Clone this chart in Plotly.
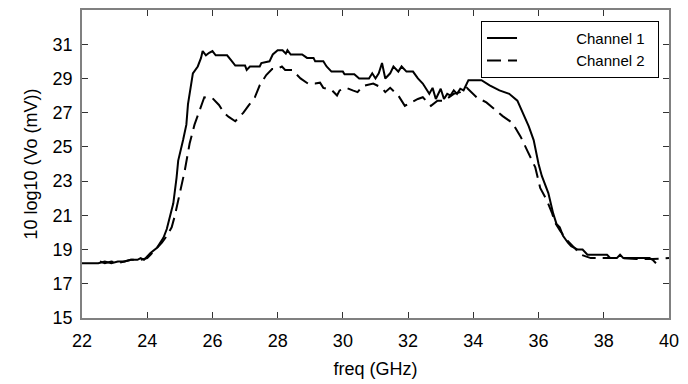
import plotly.graph_objects as go

freq_ch1 = [22.0, 22.5, 22.7, 22.9, 23.1, 23.3, 23.5, 23.7, 23.8, 23.9, 24.0, 24.1, 24.3, 24.5, 24.6, 24.7,
            24.8, 24.9, 24.95, 25.1, 25.2, 25.25, 25.4, 25.55, 25.65, 25.7, 25.8, 25.9, 26.0, 26.1, 26.45,
            26.6, 26.7, 27.0, 27.05, 27.15, 27.45, 27.5, 27.75, 27.85, 28.0, 28.15, 28.25, 28.3, 28.4,
            28.75, 28.9, 29.1, 29.15, 29.4, 29.5, 29.65, 30.0, 30.05, 30.35, 30.5, 30.8, 30.9, 31.0, 31.1,
            31.2, 31.3, 31.45, 31.55, 31.7, 31.8, 31.95, 32.15, 32.3, 32.45, 32.55, 32.65, 32.75, 32.85,
            33.0, 33.1, 33.2, 33.3, 33.4, 33.5, 33.6, 33.7, 33.75, 33.85, 34.25, 34.5, 34.8, 35.1, 35.35,
            35.5, 35.7, 35.85, 36.0, 36.1, 36.3, 36.45, 36.55, 36.65, 36.75, 36.9, 37.0, 37.2, 37.35, 37.5,
            38.1, 38.2, 38.4, 38.5, 38.6, 39.4, 39.5, 39.6]
vo_ch1 = [18.2, 18.2, 18.3, 18.2, 18.3, 18.3, 18.4, 18.4, 18.5, 18.4, 18.6, 18.8, 19.1, 19.7, 20.2, 20.9,
          21.7, 23.2, 24.2, 25.4, 26.3, 27.5, 29.3, 29.7, 30.2, 30.6, 30.35, 30.5, 30.6, 30.35, 30.35,
          30.0, 29.75, 29.75, 29.5, 29.7, 29.7, 29.9, 30.0, 30.4, 30.65, 30.65, 30.45, 30.65, 30.4,
          30.4, 30.2, 30.2, 30.0, 30.0, 29.7, 29.4, 29.4, 29.25, 29.25, 29.0, 29.0, 29.3, 29.0, 29.3,
          29.9, 29.0, 29.3, 29.7, 29.4, 29.7, 29.4, 29.4, 29.0, 28.7, 28.4, 28.1, 28.45, 27.8,
          28.4, 27.8, 28.1, 28.0, 28.3, 28.1, 28.4, 28.3, 28.5, 28.9, 28.9, 28.6, 28.3, 28.1, 27.7,
          27.1, 26.2, 25.4, 24.0, 23.3, 22.3, 21.1, 20.5, 20.3, 19.8, 19.4, 19.2, 19.0, 19.0, 18.7,
          18.7, 18.5, 18.5, 18.7, 18.5, 18.5, 18.4, 18.2]

freq_ch2 = [22.55, 22.7, 22.9, 23.1, 23.3, 23.5, 23.8, 24.0, 24.1, 24.3, 24.45, 24.6, 24.75, 24.85, 25.0,
            25.15, 25.3, 25.45, 25.6, 25.75, 26.0, 26.2, 26.35, 26.5, 26.7, 26.95, 27.1, 27.3, 27.45,
            27.65, 27.83, 27.98, 28.13, 28.23, 28.44, 28.7, 28.93, 29.15, 29.3, 29.4, 29.67, 29.82, 29.9,
            30.1, 30.3, 30.45, 30.6, 30.93, 31.2, 31.3, 31.45, 31.7, 31.9, 32.1, 32.3, 32.45, 32.6, 32.7,
            32.9, 33.1, 33.4, 33.6, 33.8, 33.95, 34.1, 34.4, 34.65, 34.9, 35.2, 35.45, 35.65, 35.8, 35.9,
            36.05, 36.25, 36.42, 36.5, 36.66, 36.87, 37.05, 37.3, 37.6, 38.0, 38.5, 39.0, 39.5, 40.0]
vo_ch2 = [18.3, 18.2, 18.3, 18.2, 18.3, 18.4, 18.4, 18.5, 18.7, 19.1, 19.4, 19.8, 20.3, 21.0, 22.3,
          23.6, 25.2, 26.3, 27.1, 27.9, 27.85, 27.45, 27.0, 26.75, 26.5, 27.0, 27.4, 27.9, 28.6,
          29.2, 29.55, 29.55, 29.7, 29.5, 29.5, 29.0, 28.7, 28.7, 28.75, 28.45, 28.3, 28.0, 28.3,
          28.45, 28.3, 28.2, 28.55, 28.7, 28.45, 28.2, 28.45, 28.0, 27.4, 27.6, 27.8, 27.9, 27.6, 27.4,
          27.7, 27.7, 28.1, 28.2, 28.45, 28.2, 27.9, 27.6, 27.2, 26.8, 26.4, 25.6, 24.8, 24.2, 23.8,
          22.6, 21.9, 21.1, 20.6, 20.1, 19.55, 19.2, 18.7, 18.5, 18.5, 18.5, 18.45, 18.45, 18.5]

x_ticks = [22, 24, 26, 28, 30, 32, 34, 36, 38, 40]
y_ticks = [15, 17, 19, 21, 23, 25, 27, 29, 31]
series_names = ["Channel 1", "Channel 2"]

font_family = "Liberation Sans, Arial, sans-serif"
lead = "\u00a0" * 13
trail = "\u00a0" * 2

fig = go.Figure()
fig.add_trace(go.Scatter(x=freq_ch1, y=vo_ch1, mode="lines", name=lead + series_names[0] + trail,
                         line=dict(color="black", width=2, dash="solid")))
fig.add_trace(go.Scatter(x=freq_ch2, y=vo_ch2, mode="lines", name=lead + series_names[1] + trail,
                         line=dict(color="black", width=2, dash="14px,7px")))

axis_common = dict(showgrid=False, zeroline=False, showline=True, linecolor="#808080", linewidth=1.5,
                   mirror="ticks", ticks="inside", ticklen=6, tickcolor="#333333", tickwidth=1,
                   tickfont=dict(family=font_family, size=18, color="black"))

fig.update_xaxes(range=[22, 40], tickvals=x_ticks, ticklabelstandoff=6,
                 title=dict(text="freq (GHz)", font=dict(family=font_family, size=18, color="black"),
                            standoff=12),
                 **axis_common)
fig.update_yaxes(range=[15, 33], tickvals=y_ticks, ticklabelstandoff=4,
                 title=dict(text="10 log10 (Vo (mV))", font=dict(family=font_family, size=18, color="black"),
                            standoff=10),
                 **axis_common)

fig.update_layout(
    width=688, height=384,
    margin=dict(l=82, r=19, t=8, b=65),
    paper_bgcolor="white", plot_bgcolor="white",
    font=dict(family=font_family, color="black"),
    legend=dict(x=0.983, y=0.965, xanchor="right", yanchor="top",
                bgcolor="white", bordercolor="black", borderwidth=1,
                font=dict(family=font_family, size=15, color="black"),
                tracegroupgap=0),
    showlegend=True,
)

fig.write_html("out.html")
